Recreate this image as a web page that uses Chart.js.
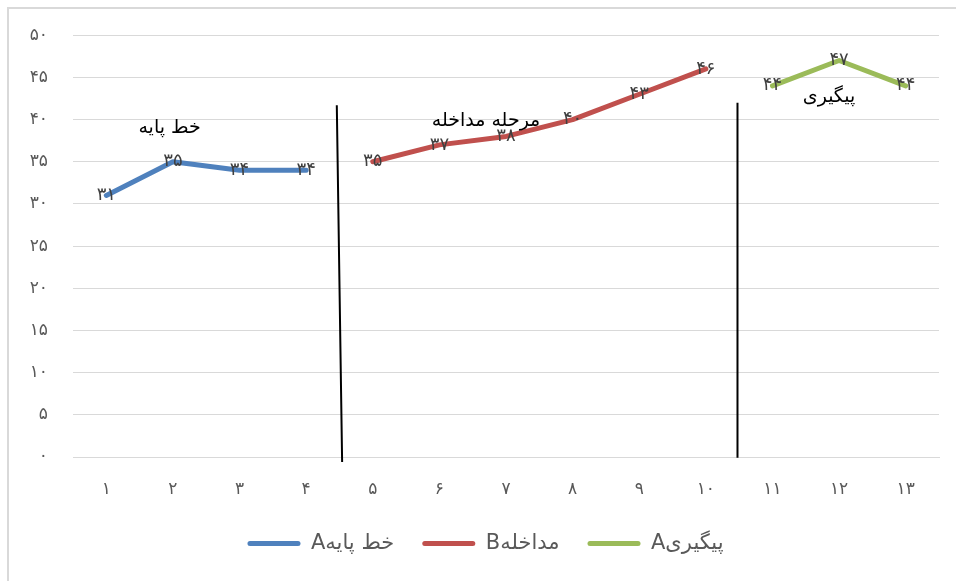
<!DOCTYPE html>
<html>
<head>
<meta charset="utf-8">
<script src="https://cdn.jsdelivr.net/npm/chart.js@4"></script>
<style>
  html, body { margin: 0; padding: 0; background: #fff; }
  #wrap { position: relative; width: 956px; height: 581px; overflow: hidden; }
  #frame { position: absolute; left: 7px; top: 7px; width: 960px; height: 590px;
           border-left: 2px solid #D9D9D9; border-top: 2px solid #D9D9D9; }
  canvas { position: absolute; left: 0; top: 0; }
</style>
</head>
<body>
<div id="wrap">
  <div id="frame"></div>
  <canvas id="phaseChart" width="956" height="581"></canvas>
</div>
<script>
// categories (sessions) and y tick labels, in Persian digits
const categories = ['۱', '۲', '۳', '۴', '۵', '۶', '۷', '۸', '۹', '۱۰', '۱۱', '۱۲', '۱۳'];
const yTickLabels = ['۰', '۵', '۱۰', '۱۵', '۲۰', '۲۵', '۳۰', '۳۵', '۴۰', '۴۵', '۵۰'];

// series values
const baseline     = [31, 35, 34, 34, null, null, null, null, null, null, null, null, null];
const intervention = [null, null, null, null, 35, 37, 38, 40, 43, 46, null, null, null];
const followUp     = [null, null, null, null, null, null, null, null, null, null, 44, 47, 44];

const seriesNames = ['خط پایهA', 'مداخلهB', 'پیگیریA'];

// phase captions: text, category position, value
const phaseNames = ['خط پایه', 'مرحله مداخله', 'پیگیری'];
const phaseX = [0.95, 5.7, 10.85];
const phaseY = [39, 39.8, 42.7];

// phase divider lines (category position at top / bottom, top value)
const dividerTopX = [3.46, 9.475];
const dividerBottomX = [3.54, 9.475];
const dividerTop = [41.7, 42];

const toFa = n => String(n).replace(/\d/g, d => '۰۱۲۳۴۵۶۷۸۹'[d]);

const extras = {
  id: 'extras',
  afterLayout(chart) {
    // nudge the legend a little right and down, like the original
    const lg = chart.legend;
    lg.left += 16; lg.right += 16;
    lg.top += 3; lg.bottom += 3;
  },
  afterDatasetsDraw(chart) {
    const ctx = chart.ctx;
    const x = chart.scales.x, y = chart.scales.y;
    ctx.save();

    // divider lines
    ctx.strokeStyle = '#000';
    ctx.lineWidth = 2;
    ctx.beginPath();
    for (let i = 0; i < dividerTop.length; i++) {
      ctx.moveTo(x.getPixelForValue(dividerTopX[i]), y.getPixelForValue(dividerTop[i]));
      ctx.lineTo(x.getPixelForValue(dividerBottomX[i]), y.getPixelForValue(i === 0 ? -0.6 : -0.1));
    }
    ctx.stroke();

    // phase captions
    ctx.fillStyle = '#000';
    ctx.font = '19px "DejaVu Sans"';
    ctx.textAlign = 'center';
    ctx.textBaseline = 'middle';
    phaseNames.forEach((t, i) => {
      ctx.fillText(t, x.getPixelForValue(phaseX[i]), y.getPixelForValue(phaseY[i]));
    });

    // data labels
    ctx.fillStyle = '#404040';
    ctx.font = '18px "DejaVu Sans"';
    chart.data.datasets.forEach((ds, di) => {
      const meta = chart.getDatasetMeta(di);
      meta.data.forEach((pt, i) => {
        if (ds.data[i] == null) return;
        ctx.fillText(toFa(ds.data[i]), pt.x, pt.y);
      });
    });
    ctx.restore();
  }
};

const lineSet = (label, data, color) => ({
  label: label,
  data: data,
  borderColor: color,
  backgroundColor: color,
  borderWidth: 5,
  borderCapStyle: 'round',
  borderJoinStyle: 'round',
  pointRadius: 0,
  pointHoverRadius: 0,
  spanGaps: false,
  tension: 0
});

const ctx = document.getElementById('phaseChart').getContext('2d');
new Chart(ctx, {
  type: 'line',
  data: {
    labels: categories,
    datasets: [
      lineSet(seriesNames[0], baseline, '#4F81BD'),
      lineSet(seriesNames[1], intervention, '#C0504D'),
      lineSet(seriesNames[2], followUp, '#9BBB59')
    ]
  },
  options: {
    responsive: false,
    animation: false,
    layout: { padding: { top: 35, right: 17, left: 0, bottom: 20 } },
    plugins: {
      tooltip: { enabled: false },
      legend: {
        position: 'bottom',
        textDirection: 'rtl',
        labels: {
          boxWidth: 53,
          boxHeight: 5,
          padding: 28,
          color: '#595959',
          font: { family: '"DejaVu Sans"', size: 21 },
          generateLabels(chart) {
            return chart.data.datasets.map((ds, i) => ({
              text: ds.label,
              fillStyle: ds.borderColor,
              strokeStyle: ds.borderColor,
              lineWidth: 0,
              borderRadius: 2.5,
              fontColor: '#595959',
              datasetIndex: i
            }));
          }
        }
      }
    },
    scales: {
      x: {
        offset: true,
        grid: { display: false, drawTicks: false },
        border: { display: true, color: '#D9D9D9', width: 1 },
        ticks: {
          padding: 22,
          color: '#595959',
          font: { family: '"DejaVu Sans"', size: 17 }
        },
        afterFit(scale) { scale.height = 45; }
      },
      y: {
        min: 0,
        max: 50,
        grid: { color: '#D9D9D9', drawTicks: false },
        border: { display: false },
        ticks: {
          stepSize: 5,
          padding: 25,
          color: '#595959',
          font: { family: '"DejaVu Sans"', size: 17 },
          callback: (v) => yTickLabels[v / 5]
        },
        afterFit(scale) { scale.width = 73; }
      }
    }
  },
  plugins: [extras]
});
</script>
</body>
</html>
